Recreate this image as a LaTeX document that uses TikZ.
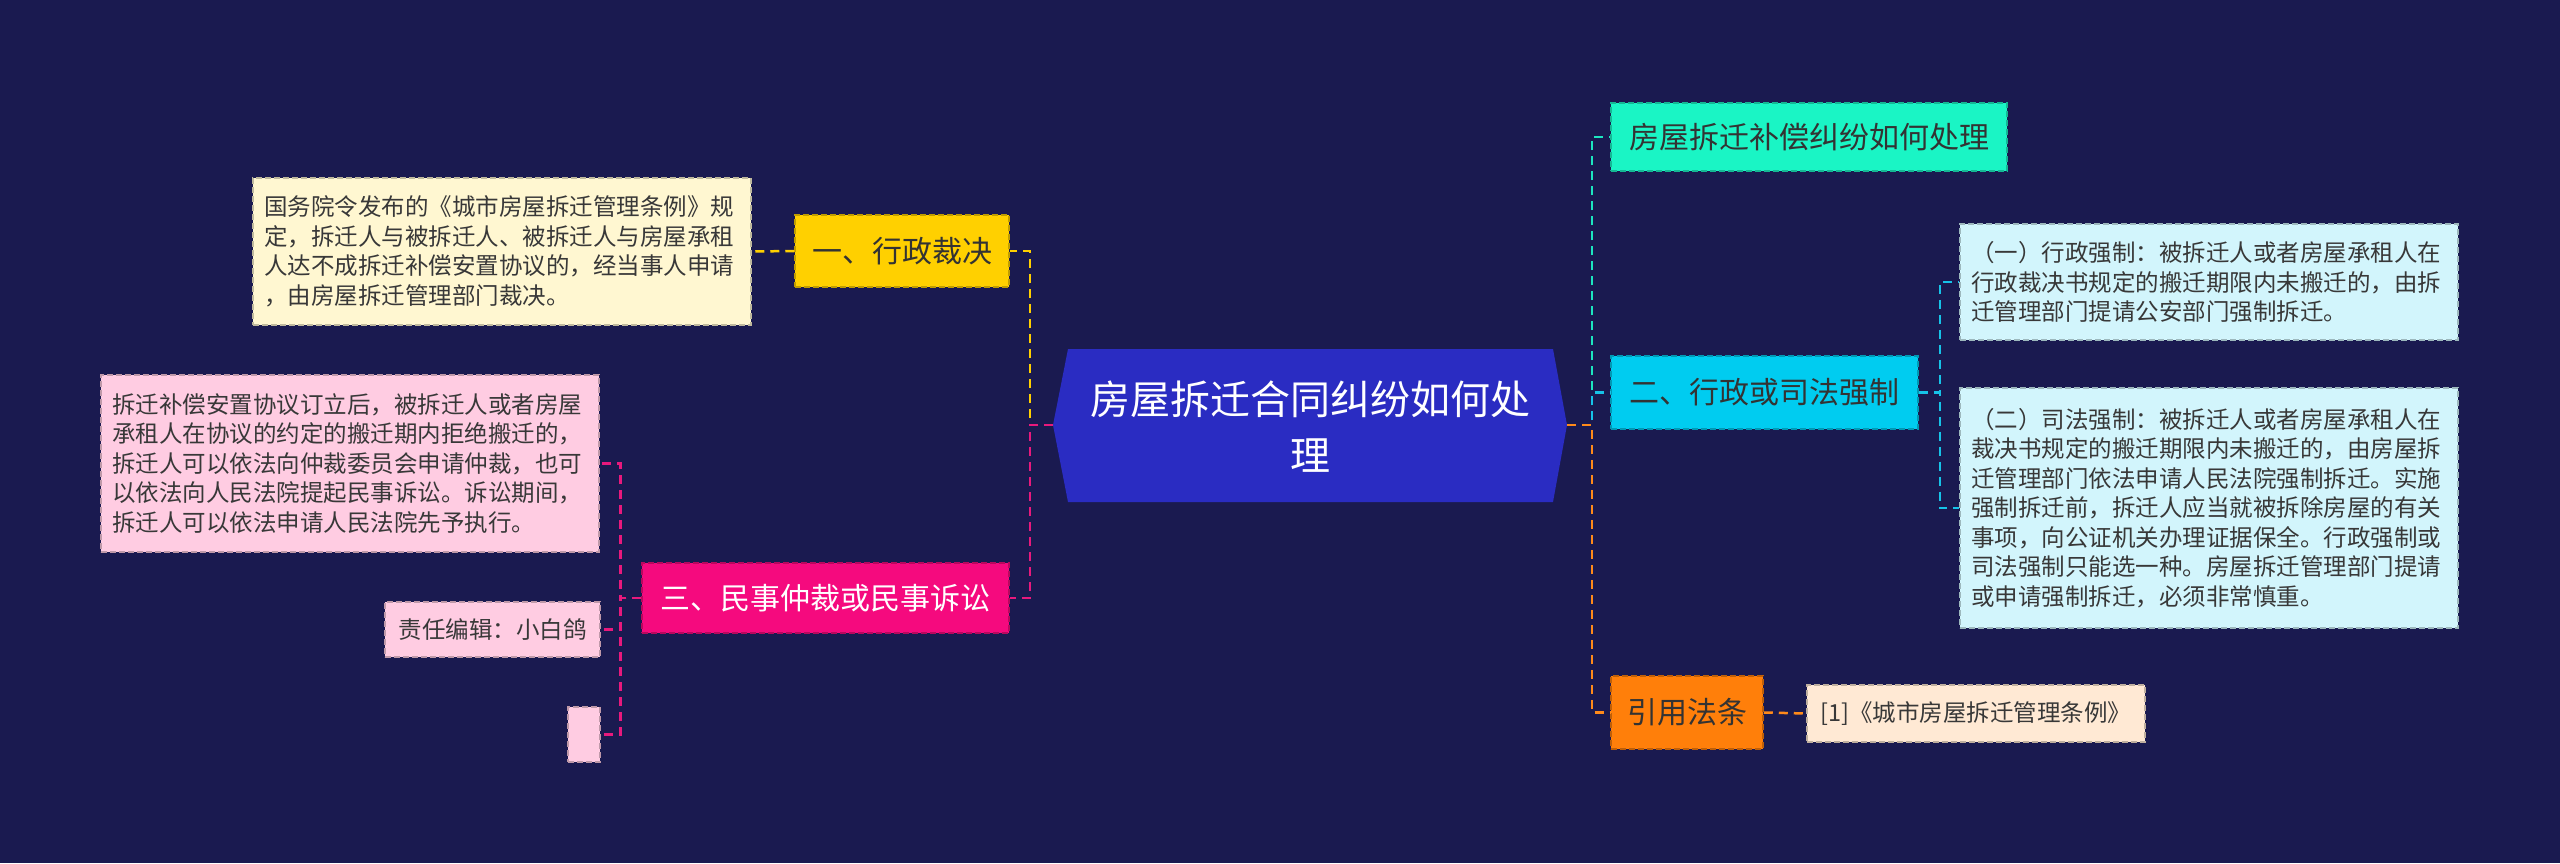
\documentclass[tikz,border=0pt]{standalone}
\usepackage{fontspec}
\newfontfamily\cjk{Noto Sans CJK SC}
\definecolor{bgc}{HTML}{1A1A50}
\definecolor{rootc}{HTML}{2A2CC2}
\definecolor{yel}{HTML}{FFD000}
\definecolor{cream}{HTML}{FFF7D1}
\definecolor{pnk}{HTML}{F50A7E}
\definecolor{lpnk}{HTML}{FFCCE2}
\definecolor{grn}{HTML}{1AF5C5}
\definecolor{cyn}{HTML}{00CCF0}
\definecolor{lcyn}{HTML}{D2F5FC}
\definecolor{org}{HTML}{FF7F0A}
\definecolor{peach}{HTML}{FFE9D4}
\definecolor{lnpink}{HTML}{E8197D}
\definecolor{lngrn}{HTML}{1DE5C0}
\definecolor{lncyn}{HTML}{16C3E8}
\definecolor{lnorg}{HTML}{FF8A1A}
\tikzset{
  nbox/.style={draw=#1!75!black, fill=#1, line width=1.5pt, dash pattern=on 6pt off 3pt, inner sep=0pt},
  lvl/.style={font=\cjk\fontsize{30}{36}\selectfont, text=black!80},
  txt/.style={font=\cjk\fontsize{23.5}{29.5}\selectfont, text=black!78, align=left, inner xsep=11pt, text width=476pt},
  conn/.style={draw=#1, line width=2.5pt, dash pattern=on 9pt off 6pt},
}
\begin{document}
\begin{tikzpicture}[x=1pt,y=-1pt]
\path[use as bounding box, fill=bgc] (0,0) rectangle (2560,863);
% root hexagon
\fill[rootc] (1068,349) -- (1553,349) -- (1567,425) -- (1553,502) -- (1068,502) -- (1053,425) -- cycle;
\node[font=\cjk\fontsize{40}{56}\selectfont, text=white, align=center] (root) at (1310,427) {房屋拆迁合同纠纷如何处\\理};
\coordinate (rootL) at (1053,425);
\coordinate (rootR) at (1567,425);
% left level 1
\node[nbox=yel, lvl, minimum width=214pt, minimum height=72pt] (n1) at (902,251) {一、行政裁决};
\node[nbox=pnk, lvl, text=white, minimum width=367pt, minimum height=70pt] (n3) at (825.5,598) {三、民事仲裁或民事诉讼};
% left leaves
\node[nbox=cream, txt, minimum height=147pt] (t1) at (502,251.5) {国务院令发布的《城市房屋拆迁管理条例》规\\定，拆迁人与被拆迁人、被拆迁人与房屋承租\\人达不成拆迁补偿安置协议的，经当事人申请\\，由房屋拆迁管理部门裁决。};
\node[nbox=lpnk, txt, minimum height=177pt] (t3a) at (350,463.5) {拆迁补偿安置协议订立后，被拆迁人或者房屋\\承租人在协议的约定的搬迁期内拒绝搬迁的，\\拆迁人可以依法向仲裁委员会申请仲裁，也可\\以依法向人民法院提起民事诉讼。诉讼期间，\\拆迁人可以依法申请人民法院先予执行。};
\node[nbox=lpnk, font=\cjk\fontsize{23.5}{29.5}\selectfont, text=black!78, minimum width=215pt, minimum height=55pt] (t3b) at (492.5,629.5) {责任编辑：小白鸽};
\node[nbox=lpnk, minimum width=32pt, minimum height=55pt] (t3c) at (584,734.5) {};
% right level 1
\node[nbox=grn, lvl, minimum width=396pt, minimum height=68pt] (r1) at (1809,137) {房屋拆迁补偿纠纷如何处理};
\node[nbox=cyn, lvl, minimum width=307pt, minimum height=73pt] (r2) at (1764.5,392.5) {二、行政或司法强制};
\node[nbox=org, lvl, minimum width=152pt, minimum height=73pt] (r3) at (1687,712.5) {引用法条};
% right leaves
\node[nbox=lcyn, txt, minimum height=116pt] (s1) at (2209,282) {（一）行政强制：被拆迁人或者房屋承租人在\\行政裁决书规定的搬迁期限内未搬迁的，由拆\\迁管理部门提请公安部门强制拆迁。};
\node[nbox=lcyn, txt, minimum height=240pt] (s2) at (2209,508) {（二）司法强制：被拆迁人或者房屋承租人在\\裁决书规定的搬迁期限内未搬迁的，由房屋拆\\迁管理部门依法申请人民法院强制拆迁。实施\\强制拆迁前，拆迁人应当就被拆除房屋的有关\\事项，向公证机关办理证据保全。行政强制或\\司法强制只能选一种。房屋拆迁管理部门提请\\或申请强制拆迁，必须非常慎重。};
\node[nbox=peach, font=\cjk\fontsize{23.5}{29.5}\selectfont, text=black!78, minimum width=338pt, minimum height=57pt] (s3) at (1976,713.5) {[1]《城市房屋拆迁管理条例》};
% connectors root -> level 1
\draw[conn=yel] (rootL) -- ++(-23,0) |- (n1.east);
\draw[conn=lnpink] (rootL) -- ++(-23,0) |- (n3.east);
\draw[conn=lngrn] (rootR) -- ++(25,0) |- (r1.west);
\draw[conn=lncyn] (rootR) -- ++(25,0) |- (r2.west);
\draw[conn=lnorg] (rootR) -- ++(25,0) |- (r3.west);
% level 1 -> leaves
\draw[conn=yel] (n1.west) -- (t1.east);
\draw[conn=lnpink] (n3.west) -- ++(-21,0) |- (t3a.east);
\draw[conn=lnpink] (n3.west) -- ++(-21,0) |- (t3b.east);
\draw[conn=lnpink] (n3.west) -- ++(-21,0) |- (t3c.east);
\draw[conn=lncyn] (r2.east) -- ++(21,0) |- (s1.west);
\draw[conn=lncyn] (r2.east) -- ++(21,0) |- (s2.west);
\draw[conn=lnorg] (r3.east) -- (s3.west);
\end{tikzpicture}
\end{document}
